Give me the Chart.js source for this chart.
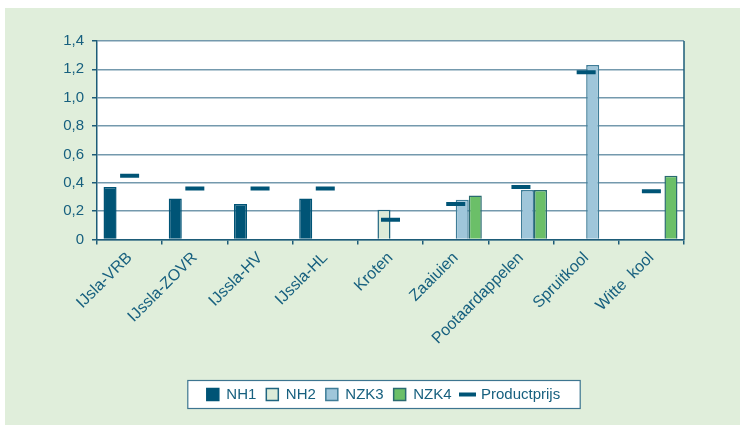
<!DOCTYPE html>
<html>
<head>
<meta charset="utf-8">
<script src="https://cdn.jsdelivr.net/npm/chart.js@4"></script>
<style>
  body { margin: 0; background: #ffffff; }
  #wrap { position: absolute; left: 5px; top: 8px; width: 735px; height: 417px; background: #e0eedb; }
</style>
</head>
<body>
<div id="wrap"><canvas id="chart"></canvas></div>
<script>
const TEXTCOLOR = "#17607f";
const AXISCOLOR = "#1d5c78";
const GRIDCOLOR = "#7499ad";
const FONT = "Arial, 'Liberation Sans', sans-serif";

const categories = ["IJsla-VRB", "IJssla-ZOVR", "IJssla-HV", "IJssla-HL", "Kroten", "Zaaiuien", "Pootaardappelen", "Spruitkool", "Witte  kool"];
const nh1 = [0.37, 0.29, 0.25, 0.29, null, null, null, null, null];
const nh2 = [null, null, null, null, 0.21, null, null, null, null];
const nzk3 = [null, null, null, null, null, 0.28, 0.35, 1.23, null];
const nzk4 = [null, null, null, null, null, 0.31, 0.35, null, 0.45];
const productprijs = [0.45, 0.36, 0.36, 0.36, 0.14, 0.25, 0.37, 1.18, 0.34];

// white plot area and right border
const framePlugin = {
    id: "frame",
    beforeDraw(chart) {
        const a = chart.chartArea;
        const ctx = chart.ctx;
        ctx.save();
        ctx.fillStyle = "#ffffff";
        ctx.fillRect(a.left, a.top, a.right - a.left, a.bottom - a.top);
        ctx.restore();
    },
    afterDraw(chart) {
        const a = chart.chartArea;
        const ctx = chart.ctx;
        ctx.save();
        ctx.strokeStyle = AXISCOLOR;
        ctx.lineWidth = 1.5;
        ctx.beginPath();
        ctx.moveTo(a.right, a.top);
        ctx.lineTo(a.right, a.bottom);
        ctx.stroke();
        ctx.restore();
    }
};

// white box around the legend items
const legendBoxPlugin = {
    id: "legendBox",
    beforeDraw(chart) {
        const boxes = chart.legend.legendHitBoxes;
        if (!boxes || !boxes.length) return;
        const left = Math.min(...boxes.map(b => b.left)) - 19;
        const right = Math.max(...boxes.map(b => b.left + b.width)) + 20;
        const cy = boxes[0].top + boxes[0].height / 2;
        const ctx = chart.ctx;
        ctx.save();
        ctx.fillStyle = "#ffffff";
        ctx.strokeStyle = "#3d7590";
        ctx.lineWidth = 1.2;
        ctx.fillRect(left, cy - 14, right - left, 28);
        ctx.strokeRect(left, cy - 14, right - left, 28);
        ctx.restore();
    }
};

const ctx = document.querySelector("#chart").getContext("2d");
const configuration = {
    type: "bar",
    data: {
        labels: categories,
        datasets: [
            { label: "NH1", data: nh1, backgroundColor: "#005476", borderColor: "#005476", borderWidth: 1.5, pointStyle: "rect" },
            { label: "NH2", data: nh2, backgroundColor: "#dcebd8", borderColor: "#1f6580", borderWidth: 1.5, pointStyle: "rect" },
            { label: "NZK3", data: nzk3, backgroundColor: "#9fc6da", borderColor: "#3f7d98", borderWidth: 1.5, pointStyle: "rect" },
            { label: "NZK4", data: nzk4, backgroundColor: "#6bbf68", borderColor: "#2a6a70", borderWidth: 1.5, pointStyle: "rect" },
            {
                type: "line",
                label: "Productprijs",
                data: productprijs,
                showLine: false,
                pointStyle: "line",
                pointRadius: 9.5,
                pointHoverRadius: 9.5,
                pointBorderWidth: 4,
                pointHoverBorderWidth: 4,
                pointBorderColor: "#005476",
                pointBackgroundColor: "#005476",
                borderColor: "#005476",
                order: -1
            }
        ]
    },
    options: {
        animation: false,
        responsive: true,
        maintainAspectRatio: false,
        layout: {
            padding: { left: 22, top: 33, right: 0, bottom: 13 }
        },
        datasets: {
            bar: { categoryPercentage: 0.8, barPercentage: 1.0 }
        },
        scales: {
            x: {
                grid: {
                    display: true,
                    drawOnChartArea: false,
                    tickLength: 5,
                    color: AXISCOLOR,
                    lineWidth: 1.5
                },
                border: { color: AXISCOLOR, width: 1.5 },
                ticks: {
                    color: TEXTCOLOR,
                    font: { family: FONT, size: 16 },
                    maxRotation: 45,
                    minRotation: 45,
                    autoSkip: false,
                    padding: 4
                },
                afterFit(scale) { scale.height = 137.5; }
            },
            y: {
                min: 0,
                max: 1.4,
                grid: {
                    color: GRIDCOLOR,
                    lineWidth: 1.5,
                    tickLength: 5,
                    tickColor: AXISCOLOR
                },
                border: { color: AXISCOLOR, width: 1.5 },
                ticks: {
                    stepSize: 0.2,
                    color: TEXTCOLOR,
                    font: { family: FONT, size: 15 },
                    padding: 8,
                    callback: function(value) {
                        return value === 0 ? "0" : value.toFixed(1).replace(".", ",");
                    }
                },
                afterFit(scale) { scale.width = 70; }
            },
            // empty space on the right so the legend centres like the original
            spacer: {
                type: "linear",
                position: "right",
                display: true,
                grid: { display: false, drawTicks: false },
                border: { display: false },
                ticks: { display: false },
                afterFit(scale) { scale.width = 56; }
            }
        },
        plugins: {
            legend: {
                position: "bottom",
                labels: {
                    usePointStyle: true,
                    boxWidth: 12,
                    boxHeight: 12,
                    padding: 10,
                    color: TEXTCOLOR,
                    font: { family: FONT, size: 15 },
                    sort: (a, b) => a.datasetIndex - b.datasetIndex
                }
            },
            tooltip: { enabled: false }
        }
    },
    plugins: [framePlugin, legendBoxPlugin]
};
new Chart(ctx, configuration);
</script>
</body>
</html>
